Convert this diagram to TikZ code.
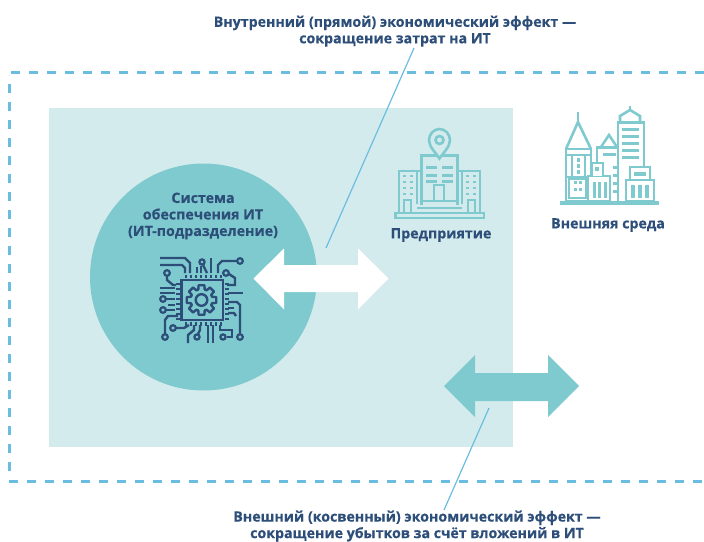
\documentclass[tikz,border=0pt]{standalone}
\usepackage{fontspec}
\setmainfont{Open Sans}[BoldFeatures={FakeBold=0.4}]
\definecolor{navy}{HTML}{2C4E78}
\definecolor{teal}{HTML}{7FCACE}
\definecolor{pale}{HTML}{D4EBED}
\definecolor{dash}{HTML}{6BBDE0}
\tikzset{
 lab/.style={font=\fontsize{14.2}{16.5}\selectfont\bfseries,text=navy,align=center,inner sep=0pt},
 leader/.style={draw=dash,line width=1.2pt},
 frame/.style={draw=dash,line width=3pt,dash pattern=on 9pt off 9pt},
 chip/.style={draw=navy,line width=2.4pt,fill=none},
 pin/.style={draw=navy,line width=2.2pt,fill=teal},
 bld/.style={draw=teal,line width=2.6pt,fill=none},
}
\begin{document}
\begin{tikzpicture}[x=1pt,y=-1pt]
\useasboundingbox (0,0) rectangle (704,541);
% frame
\draw[frame] (11,72.5) -- (720,72.5);
\draw[frame] (9.5,471) -- (9.5,75);
\draw[frame] (9,481.5) -- (720,481.5);
\fill[pale] (49,108) rectangle (513,447);
\node[circle,fill=teal,minimum size=227pt,inner sep=0pt] (sys) at (203.5,277) {};
% labels
\node[lab] (top) at (395,31.2) {Внутренний (прямой) экономический эффект —\\сокращение затрат на ИТ};
\node[lab] (bot) at (417,526) {Внешний (косвенный) экономический эффект —\\сокращение убытков за счёт вложений в ИТ};
\node[lab] (systxt) at (203,216) {Система\\обеспечения ИТ\\(ИТ-подразделение)};
\node[lab] (ent) at (441,235) {Предприятие};
\node[lab] (env) at (608,225) {Внешняя среда};
% leaders
\coordinate (t1) at (414,48); \coordinate (t2) at (326,248);
\coordinate (b1) at (489,408); \coordinate (b2) at (444,510);
\draw[leader] (t1) -- (t2);
\draw[leader] (b1) -- (b2);
% arrows
\fill[white] (253.5,278.5) -- (284,248.5) -- (284,265) -- (358,265) -- (358,248.5) -- (388.5,278.5) -- (358,309.5) -- (358,292) -- (284,292) -- (284,309.5) -- cycle;
\fill[teal] (444,386) -- (475,355) -- (475,373) -- (548,373) -- (548,355) -- (579,386) -- (548,417) -- (548,401) -- (475,401) -- (475,417) -- cycle;
% chip icon
\draw[chip] (181.5,280) rectangle (223,320);
\foreach \i in {0,...,7}{
 \fill[navy] (184.5+\i*5,274.5) rectangle ++(2.4,3.5);
 \fill[navy] (184.5+\i*5,322) rectangle ++(2.4,3.5);
 \fill[navy] (176,282.5+\i*5) rectangle ++(3.5,2.4);
 \fill[navy] (225,282.5+\i*5) rectangle ++(3.5,2.4);
}
\begin{scope}[shift={(201.5,300)}]
\draw[chip,line join=round]
 (-11:15)--(11:15)--(17:11)--(28:11)--(34:15)--(56:15)--(62:11)--(73:11)--(79:15)--(101:15)--(107:11)--(118:11)--(124:15)--(146:15)--(152:11)--(163:11)--(169:15)--(191:15)--(197:11)--(208:11)--(214:15)--(236:15)--(242:11)--(253:11)--(259:15)--(281:15)--(287:11)--(298:11)--(304:15)--(326:15)--(332:11)--(343:11)--cycle;
\draw[chip] (0,0) circle (5.8pt);
\end{scope}
\draw[chip] (160,258) -- (185,258) -- (190,263) -- (190,273);
\draw[chip] (160,265) -- (182,265) -- (185,268) -- (185,273);
\draw[chip] (197,267) -- (197,273);
\draw[chip] (201,266) -- (201,273);
\draw[chip] (203,265) -- (207,273);
\draw[chip] (211,258) -- (211,273);
\draw[chip] (218,273) -- (218,265) -- (222,261) -- (237,261);
\draw[pin] (240,261) circle (2.8pt);
\draw[pin] (226,273) circle (2.8pt);
\draw[pin] (202,262) circle (2.6pt);
\draw[chip] (229,274) -- (235,278) -- (235,285) -- (227,285);
\draw[chip] (167,276) -- (167,280) -- (173,285) -- (176,285);
\draw[pin] (167,273) circle (2.8pt);
\draw[chip] (160,288) -- (175,288);
\draw[chip] (160,293) -- (175,293);
\draw[chip] (165,299) -- (175,299);
\draw[chip] (168,305) -- (175,305);
\draw[chip] (165,310) -- (175,310);
\draw[pin] (163,299) circle (2.8pt);
\draw[pin] (163,310) circle (2.8pt);
\draw[chip] (228,293) -- (243,293);
\draw[chip] (228,302) -- (237,302) -- (240,305) -- (240,333);
\draw[chip] (228,308) -- (234,308);
\draw[chip] (228,313) -- (234,313) -- (236,316);
\draw[chip] (178,316) -- (168,316) -- (165,320) -- (165,334);
\draw[pin] (165,337) circle (2.8pt);
\draw[chip] (176,328) -- (184,328) -- (189,325);
\draw[pin] (173,328) circle (2.8pt);
\draw[chip] (194,325) -- (194,330) -- (188,335) -- (188,343);
\draw[pin] (197,337) circle (2.6pt);
\draw[chip] (200,325) -- (200,330) -- (198,334);
\draw[chip] (208,325) -- (208,343);
\draw[chip] (213,325) -- (213,343);
\draw[chip] (220,325) -- (220,330) -- (232,330) -- (232,337) -- (227,337);
\draw[pin] (223,337) circle (2.6pt);
\draw[pin] (240,337) circle (2.8pt);
% enterprise icon
\draw[bld] (395.5,218) rectangle (484,213);
\draw[bld] (399,213) -- (399,171) -- (422,171);
\draw[bld] (480,213) -- (480,171) -- (458,171);
\draw[bld] (421.5,205) -- (421.5,155.5) -- (457.5,155.5) -- (457.5,205);
\draw[bld] (417,171) -- (417,204);
\draw[bld] (462,171) -- (462,204);
\draw[bld] (417,208) -- (462,208);
\draw[bld] (423,201) -- (457,201);
\draw[bld] (434,200) -- (434,185) -- (444,185) -- (444,200);
\foreach \y in {167,175,181}{\fill[teal] (426,\y-1.4) rectangle ++(11,3);\fill[teal] (442,\y-1.4) rectangle ++(11,3);}
\foreach \x in {403,410,466,473}{\foreach \y in {176,182,188,194}{\fill[teal] (\x,\y-1.2) rectangle ++(3.2,2.6);}}
\draw[bld] (404,212) -- (404,200) -- (411,200) -- (411,212);
\draw[bld] (468,212) -- (468,200) -- (475,200) -- (475,212);
\draw[bld,fill=pale] (439.5,158.5) .. controls (436,153) and (429,147) .. (429,140) .. controls (429,134) and (434,129) .. (439.5,129) .. controls (445,129) and (450,134) .. (450,140) .. controls (450,147) and (443,153) .. (439.5,158.5) -- cycle;
\draw[bld] (439.5,140) circle (4pt);
% city icon
\fill[teal] (560,201) rectangle (659,204.5);
\draw[bld] (578,112) -- (578,122);
\draw[bld] (566,149) -- (578,122) -- (591,149);
\draw[bld] (566,149) rectangle (591,201);
\draw[bld] (566,155) -- (591,155);
\draw[bld] (566,177) -- (588,177);
\draw[bld] (572,155) -- (572,177);
\draw[bld] (585,155) -- (585,177);
\foreach \y in {158,164,170}{\fill[teal] (577,\y) rectangle ++(3,3.5);}
\draw[bld,fill=white] (569,179) rectangle (586,198);
\fill[teal] (574,181) rectangle ++(3,3);\fill[teal] (579,181) rectangle ++(3,3);
\fill[teal] (574,188) rectangle ++(3,3);\fill[teal] (579,188) rectangle ++(3,3);
\draw[bld] (601,147) -- (609,135) -- (617,147);
\draw[bld] (597,201) -- (597,147.5) -- (618,147.5);
\fill[teal] (603,153) rectangle ++(13,3);
\foreach \y in {166,174,182,190}{\fill[teal] (613,\y) rectangle ++(6,2.5);}
\draw[bld] (618,201) -- (618,122.5) -- (644,122.5) -- (644,167);
\draw[bld] (620,122) -- (620,116) -- (630,110) -- (640,116) -- (640,122);
\draw[bld] (630,110) -- (630,106);
\foreach \y in {128,135,142,149,156}{\fill[teal] (622,\y) rectangle ++(17,3);}
\draw[bld,fill=white] (588,176) rectangle (610,201);
\draw[bld,fill=white] (592,176) -- (592,163) -- (603,163) -- (603,176);
\fill[teal] (595,167) rectangle ++(4,4);
\fill[teal] (592.5,182) rectangle ++(3,16);\fill[teal] (598,182) rectangle ++(3,16);\fill[teal] (603.5,182) rectangle ++(3,16);
\draw[bld,fill=white] (630,180) -- (630,167) -- (650,167) -- (650,180);
\draw[bld,fill=white] (626,180) rectangle (654,201);
\fill[teal] (634,172) rectangle ++(12,4);
\foreach \x in {631,638,645}{\fill[teal] (\x,185) rectangle ++(3.5,13);}
\end{tikzpicture}
\end{document}
